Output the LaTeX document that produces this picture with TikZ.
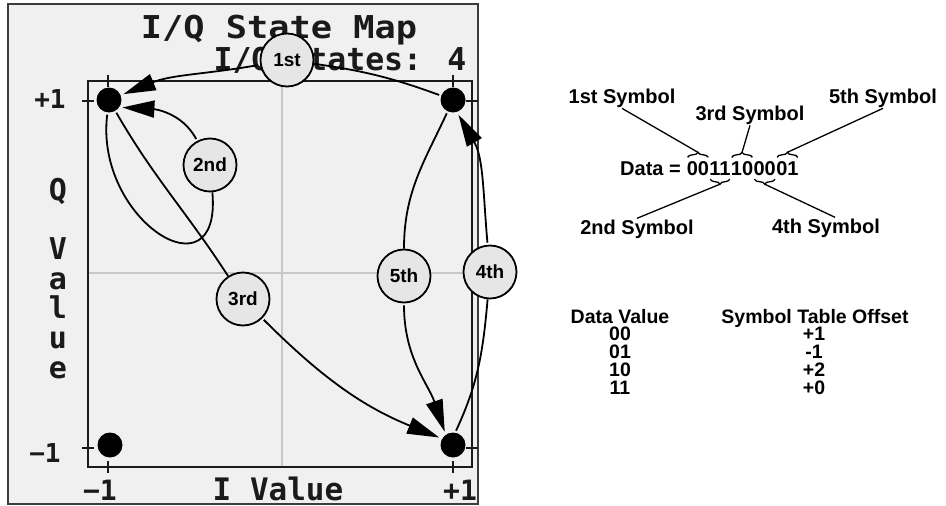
\documentclass[tikz,border=0pt]{standalone}
\usepackage{fontspec}
\setmainfont{Liberation Sans}
\newfontfamily\scrfont{DejaVu Sans Mono}
\usetikzlibrary{
  arrows.meta,
  positioning,
  decorations.pathreplacing
}
\definecolor{iqScreen}{HTML}{F0F0F0}
\definecolor{iqInk}{HTML}{1A1A1A}
\definecolor{iqGrid}{HTML}{C8C8C8}
\definecolor{iqBubble}{HTML}{E6E6E6}
\tikzset{
  screen/.style={draw=iqInk!85, line width=2pt, fill=iqScreen},
  plotbox/.style={draw=iqInk, line width=1.6pt},
  gridline/.style={draw=iqGrid, line width=1.4pt},
  tickmark/.style={draw=iqInk, line width=1.6pt},
  state/.style={circle, fill=black, minimum size=25pt, inner sep=0pt},
  bubble/.style={
    circle, draw=black, line width=1.8pt, fill=iqBubble, minimum size=53pt,
    inner sep=0pt, font=\bfseries\fontsize{19}{19}\selectfont
  },
  seg/.style={line width=1.8pt, black, shorten <=2pt},
  trans/.style={seg, -{Triangle[length=32pt, width=17pt]}, shorten >=3pt},
  scr/.style={text=iqInk, inner sep=0pt, anchor=base},
  symlbl/.style={font=\bfseries\fontsize{20}{20}\selectfont, inner sep=1pt, anchor=base},
  bits/.style={font=\bfseries\fontsize{20}{20}\selectfont, inner sep=0pt, text height=14.5pt, text depth=0pt},
  tbl/.style={font=\bfseries\fontsize{19.5}{19.5}\selectfont, inner sep=0pt, anchor=base},
  brc/.style={decorate, decoration={brace, amplitude=5pt}, line width=1.3pt},
  leader/.style={line width=1.3pt}
}

\begin{document}
\begin{tikzpicture}[x=1pt, y=1pt]
  \useasboundingbox[fill=white] (0,0) rectangle (946,-506);
  \draw[screen] (8,-4) rectangle (478,-504);
  \draw[gridline] (282,-81) -- (282,-467);
  \draw[gridline] (88,-273) -- (472,-273);
  \draw[plotbox] (88,-81) rectangle (472,-467);
  \draw[tickmark] (108,-75) -- (108,-87) (453,-75) -- (453,-87);
  \draw[tickmark] (108,-461) -- (108,-473) (453,-461) -- (453,-473);
  \draw[tickmark] (82,-101) -- (94,-101) (82,-448) -- (94,-448);
  \draw[tickmark] (466,-101) -- (478,-101) (466,-448) -- (478,-448);

  \node[scr, font=\scrfont\bfseries\fontsize{31.5}{31.5}\selectfont] (title) at (279,-38) {\scalebox{1.12}[1]{I/Q State Map}};
  \node[scr, font=\scrfont\bfseries\fontsize{31.5}{31.5}\selectfont] (nstates) at (340,-70) {I/Q States: 4};
  \node[scr, font=\scrfont\bfseries\fontsize{31}{31}\selectfont] (ivalue) at (278,-500) {I Value};
  \node[scr, font=\scrfont\bfseries\fontsize{28}{28}\selectfont] (xmin) at (100,-500) {−1};
  \node[scr, font=\scrfont\bfseries\fontsize{28}{28}\selectfont] (xmax) at (460,-500) {+1};
  \node[scr, font=\scrfont\bfseries\fontsize{26}{26}\selectfont] (ymax) at (50,-108) {+1};
  \node[scr, font=\scrfont\bfseries\fontsize{26}{26}\selectfont] (ymin) at (45,-462) {−1};
  \foreach \ch/\yy [count=\i] in {Q/200, V/259, a/289, l/318, u/348, e/378}
    \node[scr, font=\scrfont\bfseries\fontsize{30}{30}\selectfont] (qv\i) at (58,-\yy) {\ch};

  \node[state] (ul) at (109,-100) {};
  \node[state] (ur) at (453,-100) {};
  \node[state] (ll) at (110,-445) {};
  \node[state] (lr) at (453,-445) {};

  \node[bubble] (s1) at (287,-60) {1st};
  \node[bubble] (s2) at (210,-165) {2nd};
  \node[bubble] (s3) at (243,-299) {3rd};
  \node[bubble] (s5) at (404,-276) {5th};
  \node[bubble] (s4) at (490,-272) {4th};

  \draw[seg] (ur) to[out=160, in=-8] (s1);
  \draw[trans] (s1) to[out=190, in=22] (ul);
  \draw[seg] (ul) to[out=-97, in=-85, looseness=2.1] (s2);
  \draw[trans] (s2) to[out=118, in=-3] (ul.-35);
  \draw[seg] (ul) to[out=-60, in=123] (s3);
  \draw[trans] (s3) to[out=-45, in=158] (lr.150);
  \draw[seg] (ur) to[out=-115, in=90] (s5);
  \draw[trans] (s5) to[out=-90, in=109] (lr.125);
  \draw[seg] (lr.80) to[out=65, in=-95] (s4);
  \draw[trans] (s4) to[out=95, in=-60] (ur.-72);

  \node[symlbl] (sym1) at (622,-103) {1st Symbol};
  \node[symlbl] (sym3) at (750,-120) {3rd Symbol};
  \node[symlbl] (sym5) at (883,-103) {5th Symbol};
  \node[symlbl] (sym2) at (637,-234) {2nd Symbol};
  \node[symlbl] (sym4) at (826,-233) {4th Symbol};

  \node[bits, anchor=base west] (dlbl) at (620,-175) {Data =};
  \node[bits, right=5.6pt of dlbl] (p1) {00};
  \node[bits, right=0pt of p1] (p2) {11};
  \node[bits, right=0pt of p2] (p3) {10};
  \node[bits, right=0pt of p3] (p4) {00};
  \node[bits, right=0pt of p4] (p5) {01};

  \draw[brc] ([shift={(1pt,3pt)}]p1.north west) -- ([shift={(-1pt,3pt)}]p1.north east);
  \draw[brc] ([shift={(1pt,3pt)}]p3.north west) -- ([shift={(-1pt,3pt)}]p3.north east);
  \draw[brc] ([shift={(1pt,3pt)}]p5.north west) -- ([shift={(-1pt,3pt)}]p5.north east);
  \draw[brc] ([shift={(-1pt,-4pt)}]p2.south east) -- ([shift={(1pt,-4pt)}]p2.south west);
  \draw[brc] ([shift={(-1pt,-4pt)}]p4.south east) -- ([shift={(1pt,-4pt)}]p4.south west);
  \coordinate (t1) at ([yshift=8pt]p1.north);
  \coordinate (t3) at ([yshift=8pt]p3.north);
  \coordinate (t5) at ([yshift=8pt]p5.north);
  \coordinate (t2) at ([yshift=-9pt]p2.south);
  \coordinate (t4) at ([yshift=-9pt]p4.south);
  \draw[leader] (t1) -- (sym1.south);
  \draw[leader] (t3) -- (sym3.south);
  \draw[leader] (t5) -- (sym5.south);
  \draw[leader] (t2) -- (sym2.north);
  \draw[leader] (t4) -- ([xshift=9pt]sym4.north);

  \node[tbl] (hdv) at (620,-323) {Data Value};
  \node[tbl] (hoff) at (815,-323) {Symbol Table Offset};
  \foreach \dv/\off [count=\i] in {00/+1, 01/-1, 10/+2, 11/+0} {
    \node[tbl] (dv\i) at (620,{-323-17.8*\i}) {\dv};
    \node[tbl] (off\i) at (814,{-323-17.8*\i}) {\off};
  }
\end{tikzpicture}
\end{document}
